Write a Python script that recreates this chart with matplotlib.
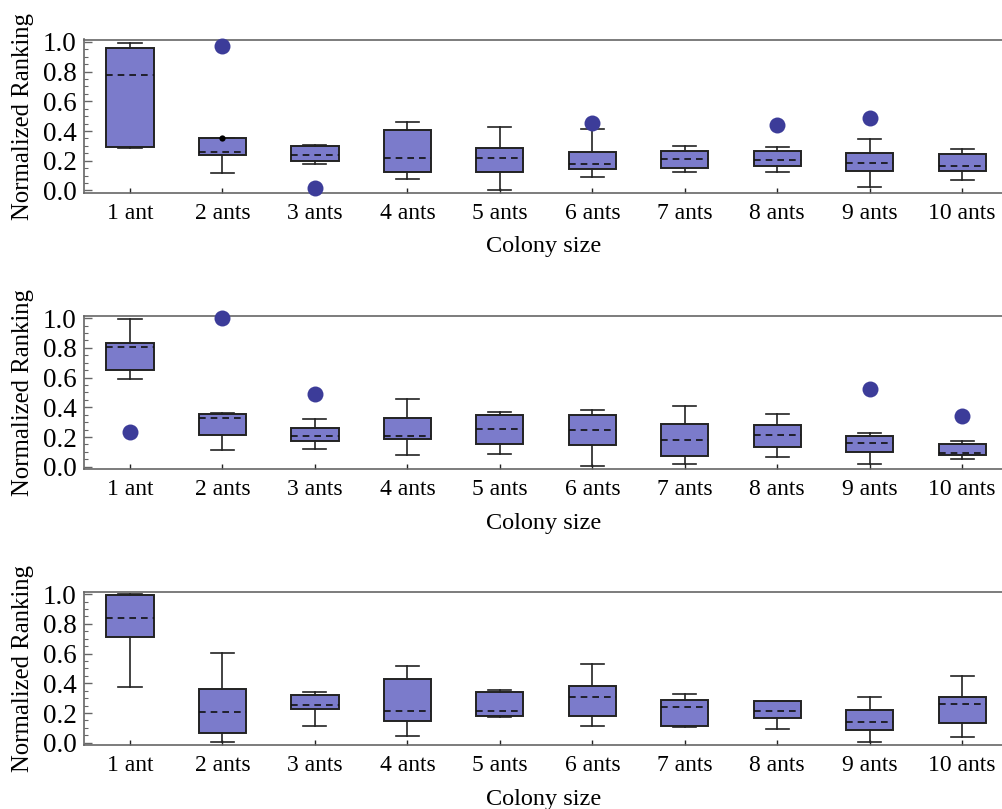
import matplotlib
matplotlib.use("Agg")
import matplotlib.pyplot as plt
from matplotlib.ticker import MultipleLocator, FormatStrFormatter

plt.rcParams['font.family'] = ['Liberation Serif', 'DejaVu Serif']

categories = ["1 ant", "2 ants", "3 ants", "4 ants", "5 ants",
              "6 ants", "7 ants", "8 ants", "9 ants", "10 ants"]

# Panel 1
wlo1 = [0.287, 0.119, 0.175, 0.076, 0.000, 0.092, 0.123, 0.125, 0.025, 0.072]
q1_1 = [0.295, 0.238, 0.200, 0.123, 0.121, 0.146, 0.152, 0.166, 0.128, 0.128]
med1 = [0.780, 0.258, 0.240, 0.217, 0.217, 0.177, 0.213, 0.208, 0.186, 0.168]
q3_1 = [0.962, 0.352, 0.298, 0.405, 0.289, 0.260, 0.268, 0.264, 0.253, 0.246]
whi1 = [0.993, 0.352, 0.309, 0.461, 0.428, 0.416, 0.302, 0.291, 0.349, 0.280]
out1 = [[], [0.973], [0.020], [], [], [0.456], [], [0.441], [0.488], []]
near1 = [[], [0.352], [], [], [], [], [], [], [], []]

# Panel 2
wlo2 = [0.590, 0.110, 0.119, 0.081, 0.083, 0.002, 0.018, 0.067, 0.018, 0.052]
q1_2 = [0.650, 0.215, 0.175, 0.186, 0.152, 0.148, 0.074, 0.132, 0.101, 0.081]
med2 = [0.803, 0.325, 0.209, 0.209, 0.256, 0.249, 0.179, 0.213, 0.159, 0.092]
q3_2 = [0.836, 0.354, 0.258, 0.327, 0.348, 0.348, 0.285, 0.283, 0.206, 0.150]
whi2 = [0.996, 0.359, 0.323, 0.457, 0.370, 0.383, 0.410, 0.357, 0.226, 0.173]
out2 = [[0.235], [1.000], [0.491], [], [], [], [], [], [0.525], [0.341]]
near2 = [[] for _ in categories]

# Panel 3
wlo3 = [0.377, 0.007, 0.114, 0.047, 0.175, 0.112, 0.105, 0.096, 0.004, 0.036]
q1_3 = [0.715, 0.067, 0.224, 0.148, 0.182, 0.177, 0.112, 0.166, 0.087, 0.130]
med3 = [0.843, 0.209, 0.253, 0.211, 0.211, 0.307, 0.238, 0.217, 0.143, 0.262]
q3_3 = [0.993, 0.359, 0.321, 0.428, 0.343, 0.381, 0.289, 0.280, 0.222, 0.309]
whi3 = [1.000, 0.601, 0.343, 0.516, 0.357, 0.531, 0.330, 0.283, 0.305, 0.446]
out3 = [[] for _ in categories]
near3 = [[] for _ in categories]

panels = [
    (wlo1, q1_1, med1, q3_1, whi1, out1, near1),
    (wlo2, q1_2, med2, q3_2, whi2, out2, near2),
    (wlo3, q1_3, med3, q3_3, whi3, out3, near3),
]

BOX = "#7b7bcb"
OUT = "#3c3c99"
SPINE = "#666666"

fig = plt.figure(figsize=(10.02, 8.09), dpi=100)
left = 84.3 / 1002
width = 1 - left
bottoms = [1 - 193 / 809, 1 - 469.3 / 809, 1 - 745.3 / 809]
height = 153.5 / 809

for (wlo, q1, med, q3, whi, outs, nears), bot in zip(panels, bottoms):
    ax = fig.add_axes([left, bot, width, height])
    stats = []
    for i in range(len(categories)):
        stats.append(dict(whislo=wlo[i], q1=q1[i], med=med[i], q3=q3[i],
                          whishi=whi[i], fliers=[]))
    pos = list(range(1, len(categories) + 1))
    ax.bxp(stats, positions=pos, widths=0.51, capwidths=0.25,
           patch_artist=True, showfliers=False,
           boxprops=dict(facecolor=BOX, edgecolor="#222222", linewidth=1.4),
           whiskerprops=dict(color="#222222", linewidth=1.2),
           capprops=dict(color="#222222", linewidth=1.2),
           medianprops=dict(color="#111111", linewidth=1.2,
                            linestyle=(0, (4, 3))))
    for p, o in zip(pos, outs):
        if o:
            ax.plot([p] * len(o), o, 'o', color=OUT, markersize=11.5,
                    markeredgewidth=0, clip_on=False, zorder=5)
    for p, o in zip(pos, nears):
        if o:
            ax.plot([p] * len(o), o, 'o', color="black", markersize=4.5,
                    markeredgewidth=0, clip_on=False, zorder=5)
    ax.set_xlim(0.506, 10.43)
    ax.set_ylim(-0.017, 1.016)
    ax.set_xticks(pos)
    ax.set_xticklabels(categories)
    ax.yaxis.set_major_locator(MultipleLocator(0.2))
    ax.yaxis.set_minor_locator(MultipleLocator(0.05))
    ax.yaxis.set_major_formatter(FormatStrFormatter('%.1f'))
    ax.tick_params(axis='y', which='major', direction='in', length=5.8,
                   width=1, color=SPINE, labelsize=19.5, pad=5.5)
    ax.tick_params(axis='y', which='minor', direction='in', length=2.9,
                   width=0.8, color=SPINE)
    ax.tick_params(axis='x', which='major', direction='in', length=3.8,
                   width=1, color="#222222", labelsize=17, pad=7)
    ax.tick_params(axis='x', which='minor', bottom=False)
    for s in ['left', 'bottom', 'top']:
        ax.spines[s].set_color(SPINE)
        ax.spines[s].set_linewidth(1.2)
    ax.spines['right'].set_visible(False)
    ax.set_xlabel("Colony size", fontsize=17.5, labelpad=9)
    ax.set_ylabel("Normalized Ranking", fontsize=17.8, labelpad=6)

fig.savefig("out.png", dpi=100)
